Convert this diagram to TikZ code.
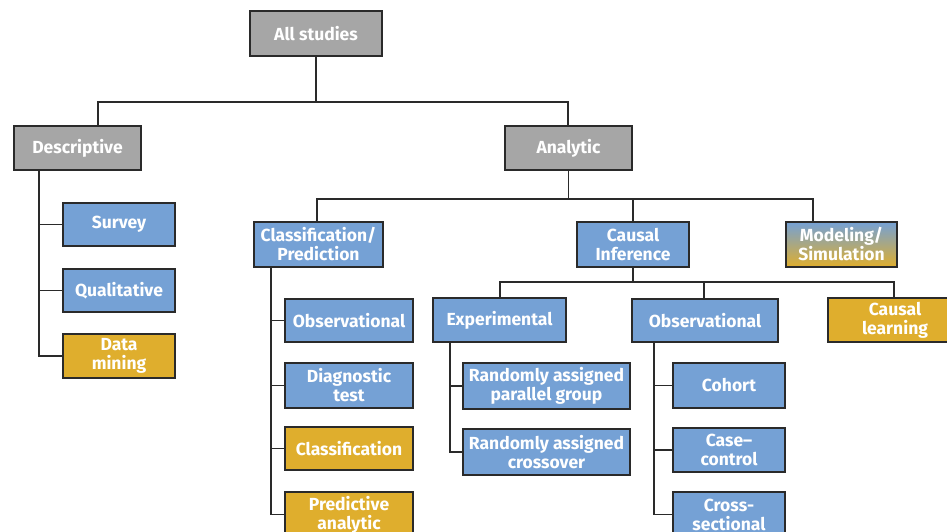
\documentclass[tikz,border=0pt]{standalone}
\usepackage{fontspec}
\setmainfont{Fira Sans}
\definecolor{bgray}{HTML}{A6A6A6}
\definecolor{bblue}{HTML}{75A1D5}
\definecolor{bgold}{HTML}{DFAE2D}
\definecolor{lnc}{HTML}{2A2A2A}
\begin{document}
\begin{tikzpicture}[x=1pt,y=-1pt,
  box/.style={draw=lnc, line width=1.4pt, text=white, align=center, inner sep=0pt,
    font=\fontsize{17.5}{19}\selectfont\bfseries},
  graybox/.style={box, fill=bgray},
  bluebox/.style={box, fill=bblue},
  goldbox/.style={box, fill=bgold},
  mixbox/.style={box, top color=bblue, bottom color=bgold, draw=lnc},
  conn/.style={draw=lnc, line width=1.3pt}]
\useasboundingbox (0,0) rectangle (947,532);
\clip (0,0) rectangle (947,532);
% level 0/1
\node[graybox, minimum width=132, minimum height=45] (all) at (316,33.5) {All studies};
\node[graybox, minimum width=127, minimum height=44] (desc) at (77.5,148) {Descriptive};
\node[graybox, minimum width=127, minimum height=44] (ana) at (568.5,148) {Analytic};
% descriptive children
\node[bluebox, minimum width=112, minimum height=43] (survey) at (119,224.5) {Survey};
\node[bluebox, minimum width=112, minimum height=43] (qual) at (119,290.5) {Qualitative};
\node[goldbox, minimum width=112, minimum height=44] (dm) at (119,356) {Data\\mining};
% analytic children
\node[bluebox, minimum width=129, minimum height=45] (cp) at (318.5,244.5) {Classification/\\Prediction};
\node[bluebox, minimum width=112, minimum height=45] (ci) at (633,244.5) {Causal\\Inference};
\node[mixbox, minimum width=111, minimum height=45] (ms) at (841.5,244.5) {Modeling/\\Simulation};
% classification children
\node[bluebox, minimum width=128, minimum height=43] (obs1) at (349,320.5) {Observational};
\node[bluebox, minimum width=128, minimum height=45] (diag) at (349,385.5) {Diagnostic\\test};
\node[goldbox, minimum width=128, minimum height=43] (cls) at (349,448.5) {Classification};
\node[goldbox, minimum width=128, minimum height=45] (pred) at (349,514.5) {Predictive\\analytic};
% causal children
\node[bluebox, minimum width=133, minimum height=44] (exp) at (499.5,320) {Experimental};
\node[bluebox, minimum width=146, minimum height=43] (obs2) at (705,320.5) {Observational};
\node[goldbox, minimum width=134, minimum height=44] (cl) at (895,320) {Causal\\learning};
% experimental children
\node[bluebox, minimum width=167, minimum height=46] (rpg) at (546.5,386) {Randomly assigned\\parallel group};
\node[bluebox, minimum width=167, minimum height=46] (rc) at (546.5,452) {Randomly assigned\\crossover};
% observational children
\node[bluebox, minimum width=112, minimum height=45] (coh) at (729,385.5) {Cohort};
\node[bluebox, minimum width=112, minimum height=44] (cc) at (729,450) {Case--\\control};
\node[bluebox, minimum width=112, minimum height=45] (cs) at (729,514.5) {Cross-\\sectional};
% bus coordinates
\coordinate (b0L) at (98,102);
\coordinate (b0R) at (568,102);
\coordinate (b1L) at (317,199);
\coordinate (b1R) at (813,199);
\coordinate (b2L) at (500,282);
\coordinate (b2R) at (894,282);
\coordinate (t1) at (39,0);
\coordinate (t2) at (271,0);
\coordinate (t3) at (450,0);
\coordinate (t4) at (654,0);
% top level
\draw[conn] (all.south) -- (all.south |- b0L);
\draw[conn] (b0L |- desc.north) -- (b0L) -- (b0R) -- (b0R |- ana.north);
% descriptive
\draw[conn] (t1 |- desc.south) -- (t1 |- dm.west) -- (dm.west);
\draw[conn] (t1 |- survey.west) -- (survey.west);
\draw[conn] (t1 |- qual.west) -- (qual.west);
% analytic
\draw[conn] (ana.south) -- (ana.south |- b1L);
\draw[conn] (b1L |- cp.north) -- (b1L) -- (b1R) -- (b1R |- ms.north);
\draw[conn] (ci.north) -- (ci.north |- b1L);
% classification
\draw[conn] (t2 |- cp.south) -- (t2 |- pred.west) -- (pred.west);
\draw[conn] (t2 |- obs1.west) -- (obs1.west);
\draw[conn] (t2 |- diag.west) -- (diag.west);
\draw[conn] (t2 |- cls.west) -- (cls.west);
% causal inference
\draw[conn] (ci.south) -- (ci.south |- b2L);
\draw[conn] (b2L |- exp.north) -- (b2L) -- (b2R) -- (b2R |- cl.north);
\draw[conn] (obs2.north -| 704,0) -- (704,282);
% experimental
\draw[conn] (t3 |- exp.south) -- (t3 |- rc.west) -- (rc.west);
\draw[conn] (t3 |- rpg.west) -- (rpg.west);
% observational
\draw[conn] (t4 |- obs2.south) -- (t4 |- cs.west) -- (cs.west);
\draw[conn] (t4 |- coh.west) -- (coh.west);
\draw[conn] (t4 |- cc.west) -- (cc.west);
\end{tikzpicture}
\end{document}
